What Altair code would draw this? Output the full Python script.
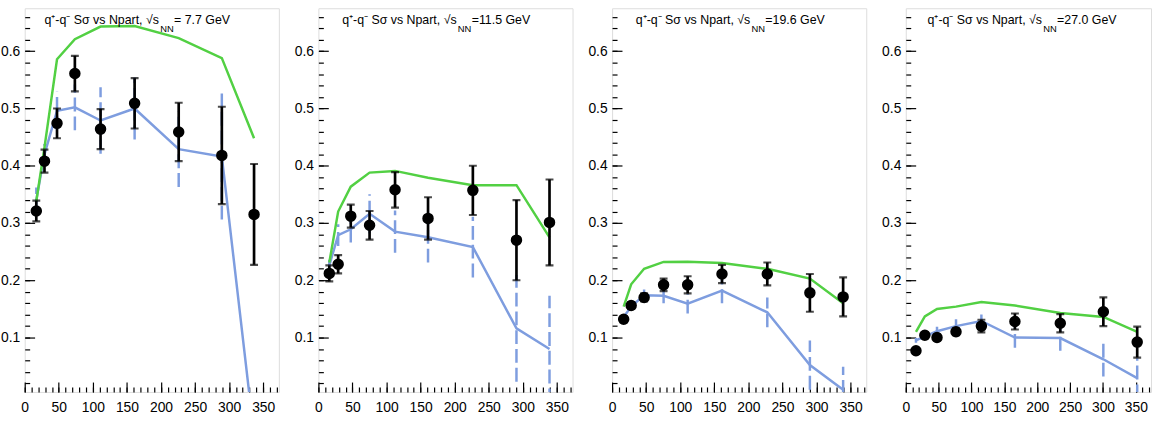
import altair as alt
import pandas as pd

# ---------------- data ----------------
# sqrt(s_NN) = 7.7 GeV
npart_77 = [17, 29, 47.4, 73.6, 111.3, 161.3, 226, 289.3, 336.6]
ssig_77 = [0.321, 0.408, 0.474, 0.561, 0.464, 0.509, 0.459, 0.418, 0.315]
ssig_err_77 = [0.018, 0.020, 0.026, 0.031, 0.035, 0.044, 0.051, 0.085, 0.088]
green_77 = [0.338, 0.432, 0.586, 0.621, 0.643, 0.644, 0.623, 0.588, 0.448]
blue_77 = [0.340, 0.420, 0.496, 0.502, 0.479, 0.500, 0.429, 0.416, -0.070]
blue_err_77 = [0.022, 0.018, 0.033, 0.040, 0.058, 0.054, 0.066, 0.110, 0.050]

# sqrt(s_NN) = 11.5 GeV
npart_115 = [16, 29, 47.5, 75.1, 112.5, 160.9, 226.7, 290.7, 339.2]
ssig_115 = [0.212, 0.228, 0.312, 0.296, 0.358, 0.308, 0.357, 0.270, 0.301]
ssig_err_115 = [0.014, 0.016, 0.020, 0.025, 0.031, 0.037, 0.043, 0.070, 0.075]
green_115 = [0.231, 0.320, 0.3635, 0.388, 0.391, 0.379, 0.366, 0.366, 0.275]
blue_115 = [0.226, 0.279, 0.289, 0.316, 0.285, 0.275, 0.258, 0.116, 0.080]
blue_err_115 = [0.010, 0.019, 0.023, 0.034, 0.037, 0.044, 0.053, 0.093, 0.093]

# sqrt(s_NN) = 19.6 GeV
npart_196 = [17, 28, 47, 75.6, 110.9, 161.3, 227.8, 290.3, 339.1]
ssig_196 = [0.132, 0.156, 0.170, 0.192, 0.192, 0.211, 0.211, 0.178, 0.171]
ssig_err_196 = [0.005, 0.006, 0.007, 0.011, 0.015, 0.016, 0.020, 0.033, 0.034]
green_196 = [0.154, 0.193, 0.220, 0.232, 0.2325, 0.230, 0.220, 0.203, 0.160]
blue_196 = [0.136, 0.154, 0.174, 0.173, 0.159, 0.182, 0.144, 0.052, 0.009]
blue_err_196 = [0.004, 0.006, 0.010, 0.013, 0.017, 0.022, 0.026, 0.043, 0.040]

# sqrt(s_NN) = 27.0 GeV
npart_270 = [15.5, 29, 47.5, 76.4, 115, 166, 235, 300.5, 352]
ssig_270 = [0.077, 0.104, 0.100, 0.110, 0.120, 0.128, 0.125, 0.145, 0.092]
ssig_err_270 = [0.004, 0.005, 0.005, 0.006, 0.011, 0.014, 0.016, 0.025, 0.027]
green_270 = [0.110, 0.137, 0.150, 0.154, 0.162, 0.156, 0.143, 0.136, 0.110]
blue_270 = [0.095, 0.102, 0.111, 0.120, 0.129, 0.100, 0.099, 0.062, 0.029]
blue_err_270 = [0.004, 0.005, 0.008, 0.012, 0.013, 0.018, 0.022, 0.030, 0.035]

title_main = "q\u207a-q\u207b S\u03c3 vs Npart, \u221as"
title_sub = "NN"
energy_labels = ["= 7.7 GeV", "=11.5 GeV", "=19.6 GeV", "=27.0 GeV"]

x_major_ticks = [0, 50, 100, 150, 200, 250, 300, 350]
x_minor_ticks = list(range(0, 371, 10))
y_major_ticks = [0.1, 0.2, 0.3, 0.4, 0.5, 0.6]
y_minor_ticks = [round(0.02 * i, 2) for i in range(1, 34)]

# ---------------- styling ----------------
FONT = "Liberation Sans"
GREEN = "#52d043"
BLUE = "#7e9ddf"
H = 388


def panel(npart, val, err, green, blue, berr, energy, width, tx):
    df = pd.DataFrame({
        "npart": npart,
        "val": val,
        "lo": [v - e for v, e in zip(val, err)],
        "hi": [v + e for v, e in zip(val, err)],
        "green": green,
        "blue": blue,
        "blo": [v - e for v, e in zip(blue, berr)],
        "bhi": [v + e for v, e in zip(blue, berr)],
    })
    xs = alt.Scale(domain=[0, 373], nice=False, zero=False)
    ys = alt.Scale(domain=[0.005, 0.675], nice=False, zero=False)

    common = dict(domain=False, grid=False, title=None, tickColor="black",
                  tickWidth=1.2)
    ax_x_major = alt.Axis(values=x_major_ticks, tickSize=10, offset=-10,
                          orient="bottom", labelFontSize=14, labelFont=FONT,
                          labelColor="black", labelPadding=9, labelFlush=False,
                          labelOverlap=False, labelBound=False, format="d",
                          **common)
    ax_x_minor = alt.Axis(values=x_minor_ticks, tickSize=5, offset=-5,
                          orient="bottom", labels=False, **common)
    ax_y_major = alt.Axis(values=y_major_ticks, tickSize=10, offset=-10,
                          orient="left", labelFontSize=14, labelFont=FONT,
                          labelColor="black", labelPadding=5, format=".1f",
                          labelOverlap=False, labelBound=False, labelFlush=False,
                          **common)
    ax_y_minor = alt.Axis(values=y_minor_ticks, tickSize=5, offset=-5,
                          orient="left", labels=False, **common)

    base = alt.Chart(df)
    X = lambda ax: alt.X("npart:Q", scale=xs, axis=ax)

    green_line = base.mark_line(color=GREEN, strokeWidth=2.5, clip=True).encode(
        x=X(ax_x_major), y=alt.Y("green:Q", scale=ys, axis=ax_y_major))
    blue_line = base.mark_line(color=BLUE, strokeWidth=2.5, clip=True).encode(
        x=X(ax_x_minor), y=alt.Y("blue:Q", scale=ys, axis=ax_y_minor))
    blue_err = base.mark_rule(color=BLUE, strokeWidth=2.5, strokeDash=[14, 5],
                              clip=True).encode(
        x=X(None), y=alt.Y("blo:Q", scale=ys, axis=None), y2="bhi:Q")
    black_err = base.mark_rule(color="black", strokeWidth=2.7, clip=True).encode(
        x=X(None), y=alt.Y("lo:Q", scale=ys, axis=None), y2="hi:Q")
    cap_lo = base.mark_tick(color="black", orient="horizontal", size=8,
                            thickness=2.2, clip=True).encode(
        x=X(None), y=alt.Y("lo:Q", scale=ys, axis=None))
    cap_hi = base.mark_tick(color="black", orient="horizontal", size=8,
                            thickness=2.2, clip=True).encode(
        x=X(None), y=alt.Y("hi:Q", scale=ys, axis=None))
    pts = base.mark_circle(size=135, color="black", opacity=1, clip=True).encode(
        x=X(None), y=alt.Y("val:Q", scale=ys, axis=None))

    tdf = pd.DataFrame({"main": [title_main], "sub": [title_sub], "en": [energy]})
    tbase = alt.Chart(tdf)
    t_main = tbase.mark_text(align="left", baseline="alphabetic", fontSize=12.5,
                             font=FONT, color="black").encode(
        text="main:N", x=alt.value(tx), y=alt.value(16))
    t_sub = tbase.mark_text(align="left", baseline="alphabetic", fontSize=9.5,
                            font=FONT, color="black").encode(
        text="sub:N", x=alt.value(tx + 117), y=alt.value(24))
    t_en = tbase.mark_text(align="left", baseline="alphabetic", fontSize=12.5,
                           font=FONT, color="black").encode(
        text="en:N", x=alt.value(tx + 131), y=alt.value(16))

    return alt.layer(blue_err, blue_line, green_line, black_err, cap_lo, cap_hi,
                     pts, t_main, t_sub, t_en).resolve_axis(
        x="independent", y="independent").properties(width=width, height=H)


p1 = panel(npart_77, ssig_77, ssig_err_77, green_77, blue_77, blue_err_77,
           energy_labels[0], 257, 20)
p2 = panel(npart_115, ssig_115, ssig_err_115, green_115, blue_115, blue_err_115,
           energy_labels[1], 257, 24)
p3 = panel(npart_196, ssig_196, ssig_err_196, green_196, blue_196, blue_err_196,
           energy_labels[2], 257, 24)
p4 = panel(npart_270, ssig_270, ssig_err_270, green_270, blue_270, blue_err_270,
           energy_labels[3], 248, 22)

chart = alt.hconcat(p1, p2, p3, p4, spacing=14).properties(
    padding={"left": 0, "top": 5, "right": 0, "bottom": 0}
).configure_view(stroke="black", strokeWidth=1.5).configure(background="white")

chart.save("out.html", embed_options={"renderer": "svg", "actions": False})
